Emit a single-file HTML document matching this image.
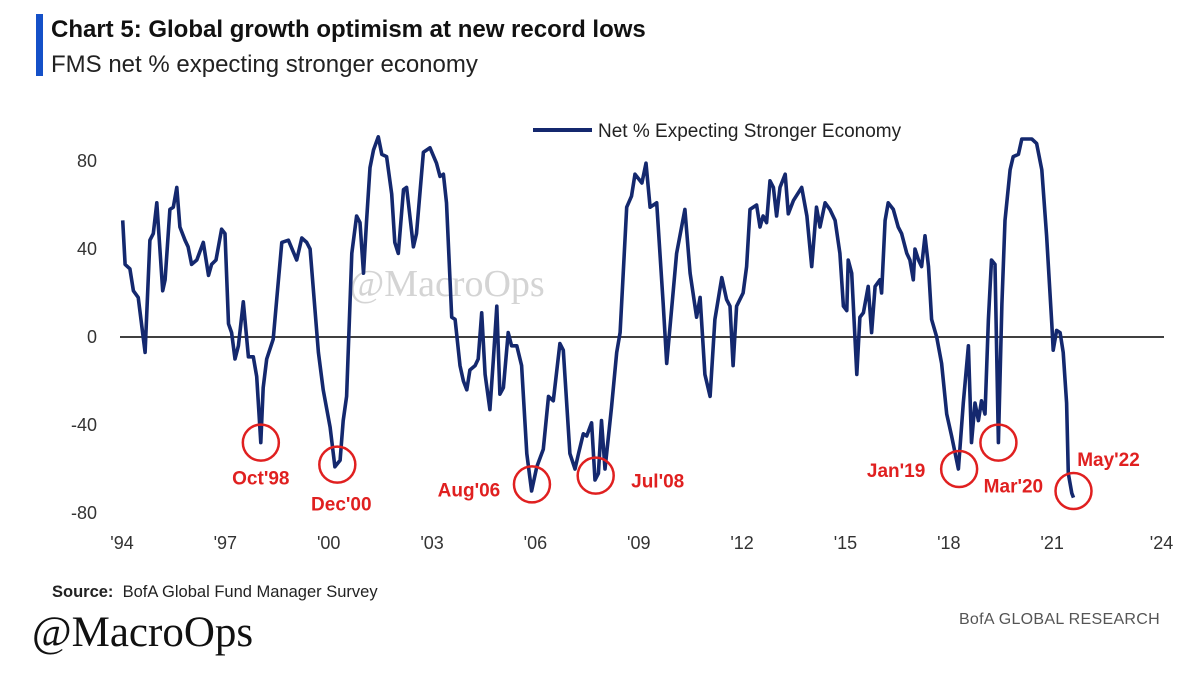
<!DOCTYPE html>
<html><head><meta charset="utf-8"><style>
html,body{margin:0;padding:0;background:#fff;}
body{width:1180px;height:682px;position:relative;overflow:hidden;font-family:"Liberation Sans",sans-serif;}
.t{position:absolute;white-space:nowrap;}
</style></head><body>
<div style="position:absolute;left:36px;top:14px;width:7px;height:62px;background:#1450c8;"></div>
<div class="t" style="left:51px;top:16px;font-size:24px;font-weight:bold;color:#111;">Chart 5: Global growth optimism at new record lows</div>
<div class="t" style="left:51px;top:51px;font-size:24px;color:#222;">FMS net % expecting stronger economy</div>
<svg id="chart" width="1180" height="682" style="position:absolute;left:0;top:0;"></svg>
<div class="t" style="left:52px;top:583px;font-size:16.5px;color:#222;"><b>Source:</b>&nbsp; BofA Global Fund Manager Survey</div>
<div class="t" style="left:32px;top:608px;font-size:43px;color:#111;font-family:'Liberation Serif',serif;">@MacroOps</div>
<div class="t" style="right:20px;top:611px;font-size:16px;color:#555;letter-spacing:0.3px;">BofA GLOBAL RESEARCH</div>
<script>
const dates=[1994.02,1994.09,1994.23,1994.33,1994.47,1994.67,1994.81,1994.91,1995.01,1995.18,1995.25,1995.39,1995.49,1995.59,1995.68,1995.83,1995.92,1996.02,1996.17,1996.36,1996.51,1996.6,1996.73,1996.89,1996.99,1997.09,1997.18,1997.28,1997.38,1997.52,1997.67,1997.81,1997.91,1998.03,1998.1,1998.2,1998.39,1998.49,1998.64,1998.83,1999.07,1999.22,1999.36,1999.46,1999.7,1999.84,2000.04,2000.18,2000.33,2000.42,2000.52,2000.67,2000.81,2000.91,2001.01,2001.1,2001.2,2001.3,2001.44,2001.54,2001.68,2001.83,2001.92,2002.02,2002.17,2002.26,2002.46,2002.55,2002.75,2002.94,2003.13,2003.23,2003.33,2003.42,2003.57,2003.67,2003.81,2003.91,2004.01,2004.1,2004.25,2004.34,2004.44,2004.54,2004.68,2004.78,2004.88,2004.97,2005.07,2005.21,2005.31,2005.46,2005.6,2005.75,2005.89,2006.04,2006.23,2006.38,2006.52,2006.71,2006.81,2007.0,2007.15,2007.25,2007.39,2007.49,2007.63,2007.73,2007.83,2007.92,2008.02,2008.21,2008.36,2008.46,2008.65,2008.79,2008.89,2009.09,2009.21,2009.33,2009.52,2009.71,2009.81,2009.91,2010.1,2010.34,2010.49,2010.68,2010.78,2010.92,2011.07,2011.21,2011.41,2011.55,2011.65,2011.74,2011.84,2012.03,2012.13,2012.23,2012.42,2012.52,2012.61,2012.71,2012.81,2012.91,2013.0,2013.1,2013.25,2013.34,2013.49,2013.73,2013.88,2014.02,2014.16,2014.26,2014.41,2014.55,2014.7,2014.84,2014.94,2015.04,2015.08,2015.18,2015.33,2015.42,2015.52,2015.66,2015.76,2015.86,2016.0,2016.05,2016.15,2016.24,2016.39,2016.53,2016.63,2016.78,2016.87,2016.97,2017.02,2017.12,2017.21,2017.31,2017.41,2017.5,2017.65,2017.79,2017.94,2018.08,2018.28,2018.42,2018.57,2018.66,2018.76,2018.86,2018.95,2019.05,2019.15,2019.24,2019.34,2019.44,2019.54,2019.63,2019.78,2019.87,2020.02,2020.12,2020.26,2020.41,2020.55,2020.7,2020.84,2020.99,2021.03,2021.13,2021.23,2021.32,2021.42,2021.47,2021.57,2021.62];
const values=[53,33,31,21,18,-7,44,47,61,21,26,58,59,68,50,44,41,33,35,43,28,33,35,49,47,6,2,-10,-4,16,-9,-9,-18,-48,-23,-10,-1,17,43,44,35,45,43,40,-7,-24,-41,-59,-56,-38,-27,38,55,52,29,53,77,85,91,83,82,65,43,38,67,68,41,47,84,86,79,73,74,61,9,8,-13,-20,-24,-15,-13,-10,11,-17,-33,-10,14,-26,-23,2,-4,-4,-13,-53,-70,-59,-51,-27,-29,-3,-6,-53,-60,-53,-44,-45,-39,-65,-62,-38,-60,-32,-7,2,59,64,74,70,79,59,61,15,-12,5,38,58,29,9,18,-17,-27,8,27,17,14,-13,14,20,32,58,60,50,55,52,71,68,55,68,74,56,62,68,55,32,59,50,61,58,53,38,14,12,35,29,-17,9,11,23,2,23,26,20,53,61,58,50,47,38,35,26,40,35,32,46,32,8,0,-12,-35,-45,-60,-30,-4,-48,-30,-38,-29,-35,8,35,33,-48,15,53,76,82,83,90,90,90,88,76,46,6,-6,3,2,-7,-30,-62,-71,-73];
const yTicks=[80,40,0,-40,-80];
const xTickLabels=["'94","'97","'00","'03","'06","'09","'12","'15","'18","'21","'24"];
const xTickYears=[1994,1997,2000,2003,2006,2009,2012,2015,2018,2021,2024];
const annLabels=["Oct'98","Dec'00","Aug'06","Jul'08","Jan'19","Mar'20","May'22"];
const annYears=[1998.03,2000.25,2005.9,2007.75,2018.3,2019.44,2021.62];
const annValues=[-48,-58,-67,-63,-60,-48,-70];

const svg=document.getElementById('chart');
const NS='http://www.w3.org/2000/svg';
const xS=y=>122+(y-1994)*34.45;
const yS=v=>337-2.2*v;
function mk(tag,attrs,txt){const e=document.createElementNS(NS,tag);for(const k in attrs)e.setAttribute(k,attrs[k]);if(txt!==undefined)e.textContent=txt;svg.appendChild(e);return e;}

const wm=mk('text',{x:447,y:296,'font-size':38,'text-anchor':'middle',fill:'#d4d4d4','font-family':'Liberation Serif, serif'},'@MacroOps');



yTicks.forEach(v=>{
  const t=mk('text',{x:97,y:yS(v)+6,'font-size':18,'text-anchor':'end',fill:'#333'},String(v));
  
  
});
xTickYears.forEach((yr,i)=>{
  const t=mk('text',{x:xS(yr)+(i==10?6:0),y:549,'font-size':18,'text-anchor':'middle',fill:'#333'},xTickLabels[i]);
  
  
});
const zl=mk('line',{x1:120,x2:1164,y1:yS(0),y2:yS(0),stroke:'#000','stroke-width':1.5});



const pts=dates.map((d,i)=>xS(d).toFixed(1)+','+yS(values[i]).toFixed(1)).join(' ');
const ln=mk('polyline',{points:pts,fill:'none',stroke:'#14286e','stroke-width':3.6,'stroke-linejoin':'round'});



const lg=mk('line',{x1:533,x2:592,y1:130,y2:130,stroke:'#14286e','stroke-width':4});


const lt=mk('text',{x:598,y:137,'font-size':19,fill:'#222'},'Net % Expecting Stronger Economy');



const labOff=[[0,36],[4,40],[-63,6],[62,6],[-63,2],[15,44],[35,-31]];
annYears.forEach((yr,i)=>{
  const cx=xS(yr),cy=yS(annValues[i]);
  const c=mk('circle',{cx:cx,cy:cy,r:18,fill:'none',stroke:'#e02020','stroke-width':2.5});
  
  
  const t=mk('text',{x:cx+labOff[i][0],y:cy+labOff[i][1]+6,'font-size':19,'font-weight':'bold','text-anchor':'middle',fill:'#e02020'},annLabels[i]);
  
  
});
</script>
</body></html>
